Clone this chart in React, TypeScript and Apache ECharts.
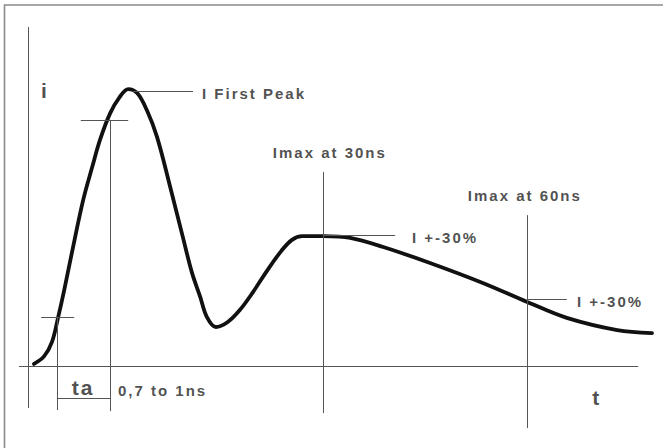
import React, { useEffect, useRef } from "react";
import * as echarts from "echarts";

// Waveform (time in arbitrary units, current in % of the axis height)
const curveT = [1.0, 2.7, 4.0, 5.0, 6.0, 7.3, 9.2, 10.7, 12.0, 13.7, 15.3, 16.7, 18.2, 19.8, 21.5, 23.7, 25.8, 27.3, 28.7, 29.8, 31.3, 33.3, 35.3, 37.5, 39.8, 42.2, 44.0, 45.7, 49.2, 53.7, 59.2, 67.0, 75.8, 83.2, 89.8, 98.2, 104.0];
const curveI = [0.6, 2.9, 7.1, 14.2, 22.1, 33.3, 49.0, 58.7, 66.7, 74.6, 79.4, 81.7, 80.5, 75.5, 67.6, 52.8, 38.1, 27.7, 20.4, 14.5, 11.5, 13.0, 16.5, 21.8, 28.0, 33.9, 37.2, 38.3, 38.3, 37.8, 35.1, 30.4, 24.5, 18.9, 14.2, 10.6, 9.7];

// Guide segments: [t1, i1, t2, i2]
const axisSegments = [
  [0, 100, 0, -12.4],
  [-1.5, 0, 101.7, 0],
];
const riseSegments = [
  [2.2, 14.5, 7.7, 14.5],
  [4.8, 14.5, 4.8, -13.0],
  [8.8, 72.6, 16.7, 72.6],
  [13.7, 72.6, 13.7, -13.3],
  [4.8, -9.4, 13.7, -9.4],
];
const levelSegments = [
  [17.5, 81.1, 27.5, 81.1],
  [49.2, 57.2, 49.2, -13.9],
  [49.2, 38.6, 61.2, 38.6],
  [83.2, 44.5, 83.2, -18.3],
  [83.2, 19.8, 89.8, 19.8],
];

// Annotation texts and their anchors
const labelTexts = ["i", "I First Peak", "Imax at 30ns", "I +-30%", "Imax at 60ns", "I +-30%", "ta", "0,7 to 1ns", "t"];
const labelT = [2.8, 29.0, 40.8, 64.0, 73.3, 91.5, 9.2, 15.0, 94.8];
const labelI = [81.4, 80.5, 63.1, 37.8, 50.4, 18.9, -6.2, -7.1, -9.4];
const centeredLabels = ["i", "ta", "t"];

export default function App() {
  const ref = useRef<HTMLDivElement>(null);

  useEffect(() => {
    if (!ref.current) return;
    const chart = echarts.init(ref.current, null, { renderer: "svg" });

    const segs = [...axisSegments, ...riseSegments, ...levelSegments];
    const markData = segs.map((s) => [
      { coord: [s[0], s[1]] },
      { coord: [s[2], s[3]] },
    ]);

    const labelData = labelTexts.map((txt, k) => {
      const centered = centeredLabels.includes(txt);
      return {
        value: [labelT[k], labelI[k]],
        label: {
          show: true,
          formatter: txt,
          position: centered ? "inside" : "right",
          distance: 0,
          fontSize: centered ? 21 : 15,
          fontWeight: "bold",
          fontFamily: "Liberation Sans, Arial, sans-serif",
          color: "#222222",
        },
      };
    });

    chart.setOption({
      animation: false,
      backgroundColor: "#ffffff",
      grid: { left: 16, right: 11, top: 27, bottom: 14.2 },
      xAxis: { type: "value", min: -2, max: 104, show: false },
      yAxis: { type: "value", min: -20, max: 100, show: false },
      graphic: [
        {
          type: "rect",
          shape: { x: 4.5, y: 5, width: 700, height: 500 },
          style: { fill: "none", stroke: "#8a8a8a", lineWidth: 1.6 },
          silent: true,
        },
      ],
      series: [
        {
          type: "line",
          data: [],
          silent: true,
          markLine: {
            silent: true,
            symbol: ["none", "none"],
            label: { show: false },
            lineStyle: { type: "solid", color: "#555555", width: 1 },
            emphasis: { disabled: true },
            data: markData,
          },
        },
        {
          type: "line",
          data: curveT.map((t, k) => [t, curveI[k]]),
          smooth: 0.35,
          showSymbol: false,
          symbol: "none",
          silent: true,
          lineStyle: { color: "#111111", width: 3.8, cap: "round", join: "round" },
          z: 3,
        },
        {
          type: "scatter",
          symbolSize: 0,
          silent: true,
          data: labelData,
          z: 4,
        },
      ],
    });

    return () => chart.dispose();
  }, []);

  return (
    <div
      ref={ref}
      style={{
        position: "fixed",
        left: 0,
        top: 0,
        width: 663,
        height: 448,
        background: "#ffffff",
        letterSpacing: "2px",
      }}
    />
  );
}
